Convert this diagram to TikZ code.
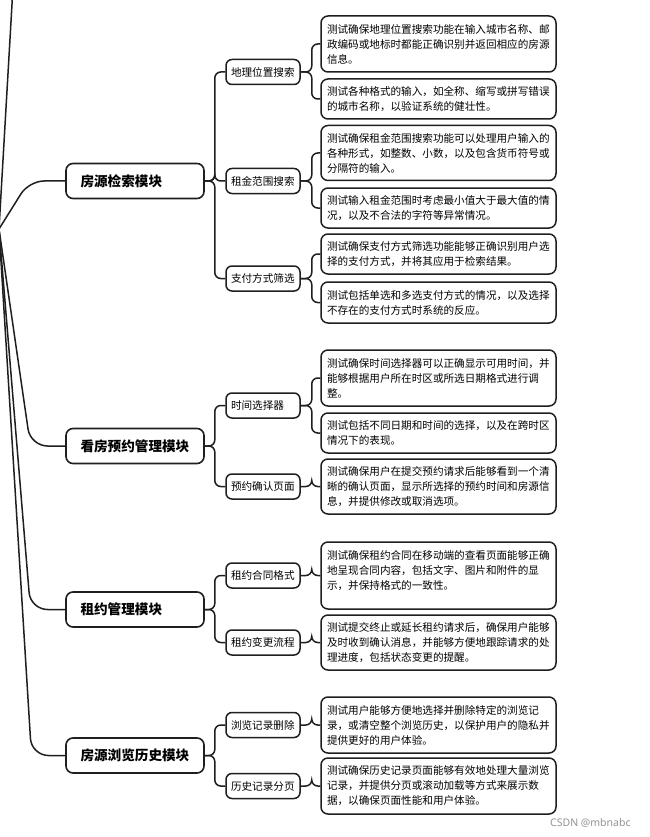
\documentclass[tikz,border=0pt]{standalone}
\usepackage{fontspec}
\setmainfont{Noto Sans CJK SC}
\newfontfamily\wmfont{Noto Sans}
\begin{document}
\begin{tikzpicture}[x=1pt,y=-1pt,
  conn/.style={draw=black!88, line width=1.5pt, rounded corners=6pt},
  lvone/.style={draw=black!88, line width=1.6pt, rounded corners=7pt, minimum width=138pt, minimum height=35pt, text width=109pt, inner xsep=14.5pt, align=left, font=\fontsize{13.6}{16}\selectfont\bfseries},
  lvtwo/.style={draw=black!88, line width=1.5pt, rounded corners=6pt, minimum width=74pt, minimum height=25pt, text width=64pt, inner xsep=5pt, inner ysep=0pt, align=left, font=\fontsize{10.6}{15}\selectfont},
  lvthree/.style={draw=black!88, line width=1.5pt, rounded corners=7pt, text width=223pt, inner xsep=6pt, inner ysep=0pt, align=left, font=\fontsize{10.6}{15}\selectfont},
]
\useasboundingbox (0,0) rectangle (649,837);
\fill[white] (0,0) rectangle (649,837);

\coordinate (root) at (-1,229);
\coordinate (up) at (12.6,-6);

% level 1
\node[lvone] (a1) at (135,181) {房源检索模块};
\node[lvone] (a2) at (135,446) {看房预约管理模块};
\node[lvone] (a3) at (135,609.5) {租约管理模块};
\node[lvone] (a4) at (135,755.5) {房源浏览历史模块};

% level 2
\node[lvtwo] (b1) at (263,72) {地理位置搜索};
\node[lvtwo] (b2) at (263,181) {租金范围搜索};
\node[lvtwo] (b3) at (263,278.5) {支付方式筛选};
\node[lvtwo] (b4) at (263,405.5) {时间选择器};
\node[lvtwo] (b5) at (263,486.5) {预约确认页面};
\node[lvtwo] (b6) at (263,575.5) {租约合同格式};
\node[lvtwo] (b7) at (263,642.5) {租约变更流程};
\node[lvtwo] (b8) at (263,725) {浏览记录删除};
\node[lvtwo] (b9) at (263,786) {历史记录分页};

% level 3
\node[lvthree, minimum height=56pt] (c1) at (438.5,44) {测试确保地理位置搜索功能在输入城市名称、邮\\政编码或地标时都能正确识别并返回相应的房源\\信息。};
\node[lvthree, minimum height=40pt] (c2) at (438.5,99) {测试各种格式的输入，如全称、缩写或拼写错误\\的城市名称，以验证系统的健壮性。};
\node[lvthree, minimum height=55pt] (c3) at (438.5,153) {测试确保租金范围搜索功能可以处理用户输入的\\各种形式，如整数、小数，以及包含货币符号或\\分隔符的输入。};
\node[lvthree, minimum height=40pt] (c4) at (438.5,208) {测试输入租金范围时考虑最小值大于最大值的情\\况，以及不合法的字符等异常情况。};
\node[lvthree, minimum height=40pt] (c5) at (438.5,254) {测试确保支付方式筛选功能能够正确识别用户选\\择的支付方式，并将其应用于检索结果。};
\node[lvthree, minimum height=41pt] (c6) at (438.5,302.5) {测试包括单选和多选支付方式的情况，以及选择\\不存在的支付方式时系统的反应。};
\node[lvthree, minimum height=56pt] (c7) at (438.5,378) {测试确保时间选择器可以正确显示可用时间，并\\能够根据用户所在时区或所选日期格式进行调\\整。};
\node[lvthree, minimum height=40pt] (c8) at (438.5,433) {测试包括不同日期和时间的选择，以及在跨时区\\情况下的表现。};
\node[lvthree, minimum height=55pt] (c9) at (438.5,486.5) {测试确保用户在提交预约请求后能够看到一个清\\晰的确认页面，显示所选择的预约时间和房源信\\息，并提供修改或取消选项。};
\node[lvthree, minimum height=67pt] (c10) at (438.5,575.5) {测试确保租约合同在移动端的查看页面能够正确\\地呈现合同内容，包括文字、图片和附件的显\\示，并保持格式的一致性。\\[-4pt]\mbox{}};
\node[lvthree, minimum height=55pt] (c11) at (438.5,642.5) {测试提交终止或延长租约请求后，确保用户能够\\及时收到确认消息，并能够方便地跟踪请求的处\\理进度，包括状态变更的提醒。};
\node[lvthree, minimum height=56pt] (c12) at (438.5,725) {测试用户能够方便地选择并删除特定的浏览记\\录，或清空整个浏览历史，以保护用户的隐私并\\提供更好的用户体验。};
\node[lvthree, minimum height=56pt] (c13) at (438.5,786) {测试确保历史记录页面能够有效地处理大量浏览\\记录，并提供分页或滚动加载等方式来展示数\\据，以确保页面性能和用户体验。};

% root connectors
\draw[conn] (root) -- (up);
\draw[conn, rounded corners=15pt] (root) -- (29,181) -- (a1.west);
\draw[conn, rounded corners=17pt] (root) -- (30.5,446) -- (a2.west);
\draw[conn, rounded corners=17pt] (root) -- (30.5,609.5) -- (a3.west);
\draw[conn, rounded corners=17pt] (root) -- (31.5,755.5) -- (a4.west);

% level 1 -> level 2
\foreach \p/\c in {a1/b1,a1/b2,a1/b3,a2/b4,a2/b5,a3/b6,a3/b7,a4/b8,a4/b9}
  \draw[conn] (\p.east) -- ++(10,0) |- (\c.west);

% level 2 -> level 3
\foreach \p/\c in {b1/c1,b1/c2,b2/c3,b2/c4,b3/c5,b3/c6,b4/c7,b4/c8,b5/c9,b6/c10,b7/c11,b8/c12,b9/c13}
  \draw[conn] (\p.east) -- ++(11,0) |- (\c.west);

\node[font=\wmfont\fontsize{10.5}{12}\selectfont, text=black!42, anchor=west, inner sep=0pt] (wmk) at (550,823) {CSDN @mbnabc};
\end{tikzpicture}
\end{document}
